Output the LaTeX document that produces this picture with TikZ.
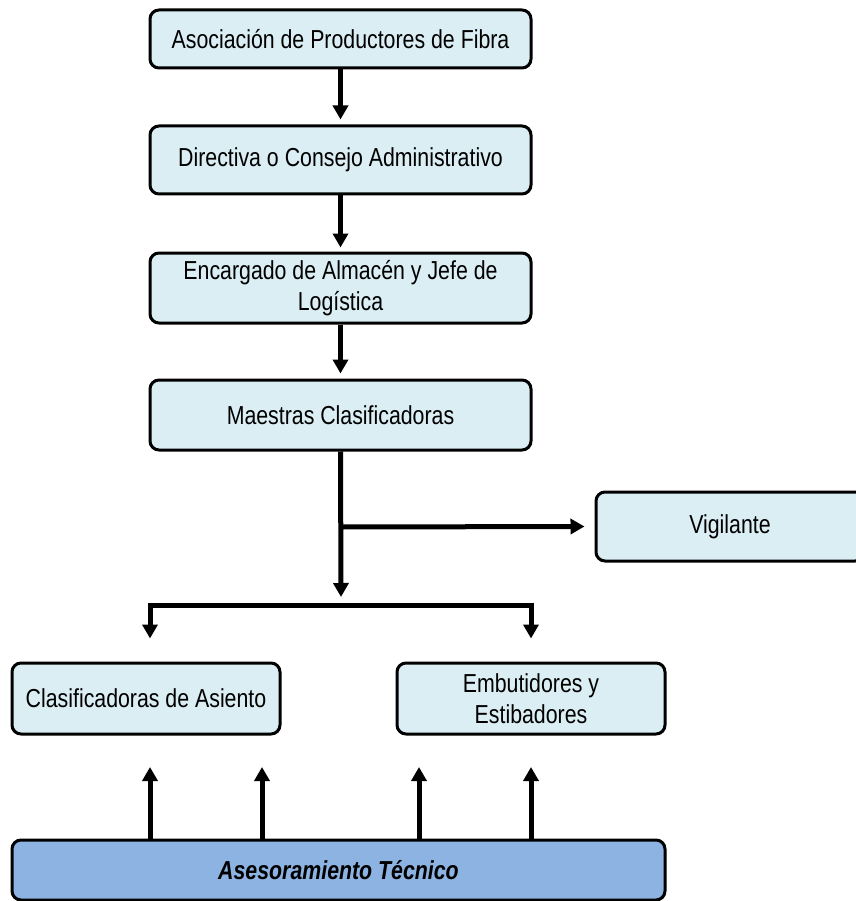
\documentclass[tikz,border=0pt]{standalone}
\usepackage{fontspec}
\setmainfont{Liberation Sans}[FakeStretch=0.82]
\usetikzlibrary{arrows.meta,calc}
\definecolor{boxfill}{HTML}{DBEEF4}
\definecolor{basefill}{HTML}{8DB3E2}
\tikzset{
  orgbox/.style={draw=black, line width=3pt, rounded corners=9pt, fill=boxfill,
    inner sep=0pt, align=center, font=\fontsize{26}{31}\selectfont},
  flow/.style={line width=5pt, -{Triangle[width=15pt,length=14pt]}},
  bar/.style={line width=5pt}
}
\begin{document}
\begin{tikzpicture}[x=1pt,y=-1pt]
\useasboundingbox (0,0) rectangle (855,901);
% main chain
\node[orgbox, minimum width=381pt, minimum height=58pt] (apf) at (340.5,39) {Asociación de Productores de Fibra};
\node[orgbox, minimum width=381pt, minimum height=68pt] (dir) at (340.5,160) {Directiva o Consejo Administrativo};
\node[orgbox, minimum width=381pt, minimum height=70pt] (alm) at (340.5,288) {Encargado de Almacén y Jefe de\\Logística};
\node[orgbox, minimum width=381pt, minimum height=70pt] (mae) at (340.5,415) {Maestras Clasificadoras};
\node[orgbox, minimum width=268pt, minimum height=69pt] (vig) at (730,526.5) {Vigilante};
% lower level
\node[orgbox, minimum width=268pt, minimum height=71pt] (cla) at (146,698.5) {Clasificadoras de Asiento};
\node[orgbox, minimum width=268pt, minimum height=71pt] (emb) at (531,698.5) {Embutidores y\\Estibadores};
\node[orgbox, fill=basefill, minimum width=653pt, minimum height=60pt,
      font=\fontsize{26}{31}\selectfont\bfseries\itshape] (ase) at (338.5,870) {Asesoramiento Técnico};
% connectors
\draw[flow] (apf.south) -- ++(0,50);
\draw[flow] (dir.south) -- ++(0,52);
\draw[flow] (alm.south) -- ++(0,49);
\coordinate (split) at (341,605);
\coordinate (tee) at (341,527);
\draw[flow] (mae.south) -- ($(split)+(0,-8)$);
\draw[flow] (tee) -- ($(vig.west)+(-10,0)$);
\coordinate (bl) at (150,605);
\coordinate (br) at (531,605);
\draw[bar, line cap=butt] ($(bl)+(-2.5,0)$) -- ($(br)+(2.5,0)$);
\draw[flow] ($(bl)+(0,-2.5)$) -- ($(cla.north)+(4,-23)$);
\draw[flow] ($(br)+(0,-2.5)$) -- ($(emb.north)+(0,-23)$);
% support arrows
\foreach \xx in {150,262,419,531}{
  \draw[flow] (ase.north -| \xx,0) -- (\xx,767);
}
\end{tikzpicture}
\end{document}
